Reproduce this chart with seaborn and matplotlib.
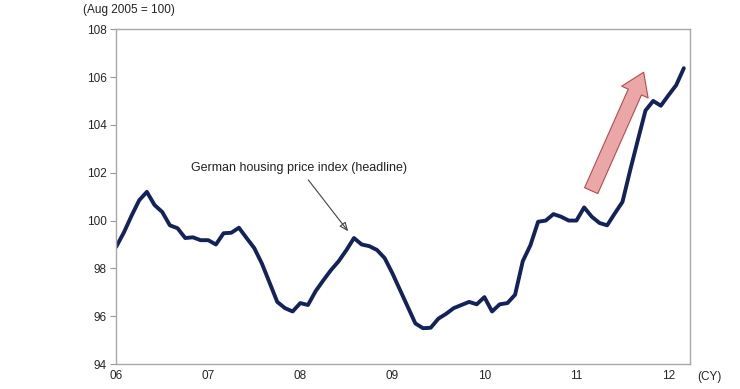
import matplotlib
matplotlib.use("Agg")
import matplotlib.pyplot as plt
import seaborn as sns
import pandas as pd
import numpy as np

# Monthly German housing price index, Jan 2006 - Mar 2012 (Aug 2005 = 100)
start_year = 2006
values = [
    98.9, 99.5, 100.2, 100.85, 101.2, 100.65, 100.36, 99.8, 99.68, 99.27, 99.3, 99.18,   # 2006
    99.18, 99.0, 99.47, 99.49, 99.7, 99.27, 98.85, 98.2, 97.4, 96.6, 96.34, 96.2,       # 2007
    96.55, 96.47, 97.05, 97.5, 97.93, 98.3, 98.76, 99.27, 99.0, 98.93, 98.77, 98.43,    # 2008
    97.8, 97.1, 96.4, 95.7, 95.5, 95.52, 95.9, 96.1, 96.34, 96.47, 96.6, 96.5,          # 2009
    96.8, 96.2, 96.5, 96.55, 96.9, 98.3, 98.97, 99.95, 100.0, 100.27, 100.16, 100.0,    # 2010
    100.0, 100.55, 100.16, 99.9, 99.8, 100.3, 100.78, 102.1, 103.36, 104.6, 105.0, 104.8, # 2011
    105.24, 105.66, 106.37,                                                            # 2012
]
year_ticks = [2006, 2007, 2008, 2009, 2010, 2011, 2012]
year_labels = ["06", "07", "08", "09", "10", "11", "12"]
y_ticks = [94, 96, 98, 100, 102, 104, 106, 108]

df = pd.DataFrame({
    "t": [start_year + i / 12 for i in range(len(values))],
    "index": values,
})

sns.set_style("white")
plt.rcParams["font.family"] = ["Liberation Sans", "DejaVu Sans"]

fig = plt.figure(figsize=(7.4, 3.89), dpi=100)
ax = fig.add_axes([0.157, 0.064, 0.775, 0.861])

sns.lineplot(data=df, x="t", y="index", ax=ax, color="#13235a", linewidth=2.8)

ax.set_xlim(2006, 2012.23)
ax.set_ylim(94, 108)
ax.set_xticks(year_ticks)
ax.set_xticklabels(year_labels)
ax.set_yticks(y_ticks)
ax.set_yticklabels([str(v) for v in y_ticks])
ax.set_xlabel("")
ax.set_ylabel("")
ax.tick_params(axis="x", direction="in", length=4, color="#999999", labelsize=8.5, pad=4)
ax.tick_params(axis="y", direction="out", length=4, color="#999999", labelsize=8.5, pad=3, left=True)
for s in ax.spines.values():
    s.set_color("#a8a8a8")
    s.set_linewidth(1.0)

# annotation for headline series
ax.annotate("German housing price index (headline)",
            xy=(2008.52, 99.55), xytext=(2007.99, 101.93),
            fontsize=9, ha="center", va="bottom", color="#222222",
            arrowprops=dict(arrowstyle="-|>,head_length=0.6,head_width=0.25", color="#444444", lw=0.8,
                            fill=False, shrinkA=2, shrinkB=0))

# big pink trend arrow
ax.annotate("", xy=(2011.73, 106.2), xytext=(2011.16, 101.25),
            arrowprops=dict(arrowstyle="simple,head_length=1.2,head_width=1.6,tail_width=0.8",
                            facecolor="#eba7a7", edgecolor="#b84a4a", lw=0.8,
                            shrinkA=0, shrinkB=0, mutation_scale=13))

fig.text(83 / 740, 1 - 10 / 389, "(Aug 2005 = 100)", fontsize=8.5, ha="left", va="center", color="#222222")
fig.text(697 / 740, 1 - 377 / 389, "(CY)", fontsize=8.5, ha="left", va="center", color="#222222")

fig.savefig("out.png", dpi=100, facecolor="white")
